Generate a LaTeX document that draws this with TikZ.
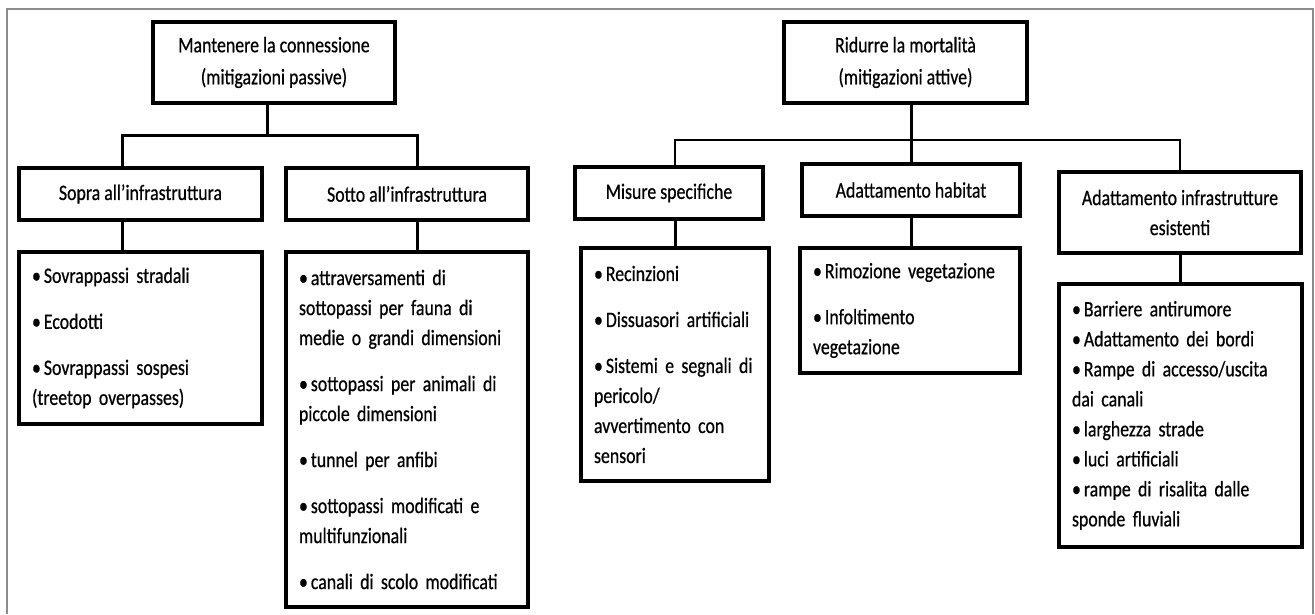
\documentclass[tikz,border=0pt]{standalone}
\usepackage{fontspec}
\setmainfont[FakeStretch=0.81, FakeBold=0.6]{Carlito}
\newcommand\hfont{\fontsize{22}{32}\selectfont}
\newcommand\lfont{\fontsize{22}{30}\selectfont}
\newcommand\bul{•\hspace{3pt}}
\tikzset{
  hbox/.style={draw=black, line width=3.2pt, fill=white, inner sep=0pt, align=center, font=\hfont},
  lbox/.style={draw=black, line width=3.2pt, fill=white, inner xsep=13pt, inner ysep=0pt, align=left, font=\lfont},
  conn/.style={line width=3pt, draw=black},
  thinconn/.style={line width=1.8pt, draw=black},
  frame/.style={line width=2.5pt, draw=black!45},
}
\begin{document}
\begin{tikzpicture}[x=1pt, y=-1pt]
\useasboundingbox (0,0) rectangle (1315,614);
\draw[frame] (7,614) -- (7,9) -- (1313,9) -- (1313,614);

% left tree
\node[hbox, minimum width=242pt, minimum height=81pt] (mant) at (274,62.5)
  {Mantenere la connessione\\(mitigazioni passive)};
\node[hbox, minimum width=243pt, minimum height=52pt] (sopra) at (140.5,194)
  {Sopra all’infrastruttura};
\node[hbox, minimum width=242pt, minimum height=52pt] (sotto) at (407,194)
  {Sotto all’infrastruttura};
\node[lbox, text width=217pt, minimum width=243pt, minimum height=172pt] (sopraL) at (140.5,338)
  {\bul Sovrappassi stradali\\[16pt]\bul Ecodotti\\[16pt]\bul Sovrappassi sospesi\\(treetop overpasses)};
\node[lbox, text width=216pt, minimum width=242pt, minimum height=355pt] (sottoL) at (407,429.5)
  {\bul attraversamenti di\\sottopassi per fauna di\\medie o grandi dimensioni\\[16pt]%
   \bul sottopassi per animali di\\piccole dimensioni\\[16pt]%
   \bul tunnel per anfibi\\[16pt]%
   \bul sottopassi modificati e\\multifunzionali\\[16pt]%
   \bul canali di scolo modificati};

% right tree
\node[hbox, minimum width=243pt, minimum height=81pt] (rid) at (905.5,62.5)
  {Ridurre la mortalità\\(mitigazioni attive)};
\node[hbox, minimum width=188pt, minimum height=52pt] (mis) at (669,193)
  {Misure specifiche};
\node[hbox, minimum width=218pt, minimum height=52pt] (hab) at (911,190)
  {Adattamento habitat};
\node[hbox, minimum width=242pt, minimum height=81pt, font=\lfont] (infr) at (1180,212.5)
  {Adattamento infrastrutture\\esistenti};
\node[lbox, text width=162pt, minimum width=188pt, minimum height=233pt] (misL) at (675,364.5)
  {\bul Recinzioni\\[16pt]\bul Dissuasori artificiali\\[16pt]\bul Sistemi e segnali di\\pericolo/\\avvertimento con\\sensori};
\node[lbox, text width=194pt, minimum width=220pt, minimum height=125pt] (habL) at (910,310.5)
  {\bul Rimozione vegetazione\\[16pt]\bul Infoltimento\\vegetazione};
\node[lbox, text width=217pt, minimum width=243pt, minimum height=263pt] (infrL) at (1180.5,415.5)
  {\bul Barriere antirumore\\\bul Adattamento dei bordi\\\bul Rampe di accesso/uscita\\dai canali\\\bul larghezza strade\\\bul luci artificiali\\\bul rampe di risalita dalle\\sponde fluviali};

% connectors left
\coordinate (jL) at (267,135);
\coordinate (xSopra) at (122,0);
\coordinate (xSotto) at (417,0);
\draw[conn] (mant.south -| jL) -- (jL);
\draw[conn] (sopra.north -| xSopra) |- (jL) -| (sotto.north -| xSotto);
\draw[conn] (sopra.south -| xSopra) -- (sopraL.north -| xSopra);
\draw[conn] (sotto.south -| xSotto) -- (sottoL.north -| xSotto);

% connectors right
\coordinate (jR) at (911,140);
\draw[conn] (rid.south -| hab.north) -- (hab.north);
\draw[thinconn] (mis.north -| misL.north) |- (jR) -| (infr.north);
\draw[conn] (mis.south -| misL.north) -- (misL.north);
\draw[conn] (hab.south) -- (hab.south |- habL.north);
\draw[conn] (infr.south) -- (infr.south |- infrL.north);
\end{tikzpicture}
\end{document}
